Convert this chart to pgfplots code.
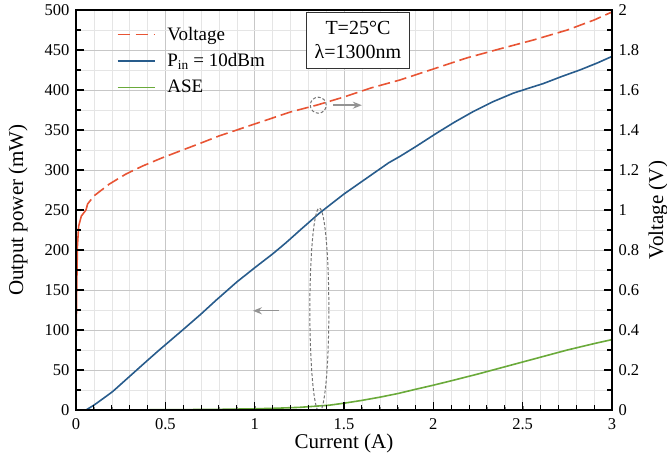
\documentclass[border=0pt]{standalone}
\usepackage{fontspec}
\setmainfont{Liberation Serif}
\usepackage{pgfplots}
\pgfplotsset{compat=1.18}
\usetikzlibrary{arrows.meta}

\definecolor{vcol}{RGB}{232,84,52}
\definecolor{pcol}{RGB}{40,92,140}
\definecolor{acol}{RGB}{106,170,58}

\tikzset{annot/.style={gray!85, line width=1.4pt, -{Stealth[length=9pt,width=7pt]}}}

\pgfplotsset{
  common/.style={
    scale only axis, width=536pt, height=400pt,
    xmin=0, xmax=3,
    /pgf/number format/assume math mode=true,
    tick label style={font=\fontsize{16.5}{19}\selectfont},
    label style={font=\fontsize{21}{24}\selectfont},
  },
}

\begin{document}
\begin{tikzpicture}
\begin{axis}[common, name=main,
  ymin=0, ymax=500,
  xtick distance=0.5, ytick distance=50,
  minor x tick num=4, minor y tick num=1,
  xtick pos=bottom, tick align=inside,
  grid=both,
  major grid style={black!22},
  minor grid style={black!10},
  xticklabel style={yshift=-5pt},
  yticklabel style={xshift=-3pt},
  xlabel={Current (A)},
  ylabel={Output power (mW)},
  xlabel style={at={(axis description cs:0.5,0)}, anchor=north, yshift=-20pt},
  ylabel style={at={(axis description cs:-0.108,0.5)}, anchor=center},
  legend image code/.code={\draw[mark repeat=2,mark phase=2,#1]
    plot coordinates {(0pt,0pt) (18pt,0pt) (37pt,0pt)};},
  legend cell align=left,
  legend style={draw=none, fill=none, at={(axis description cs:0.07,0.968)},
    anchor=north west, font=\fontsize{19}{22}\selectfont, row sep=8pt,
    /tikz/every odd column/.append style={column sep=10pt}},
]
\addlegendimage{vcol, line width=1.6pt, dash pattern=on 12pt off 6pt}
\addlegendentry{Voltage}

% P_in = 10 dBm output power
\addplot[pcol, line width=1.6pt] coordinates {
  (0.056,0) (0.1,6) (0.15,14) (0.205,23) (0.3,42) (0.4,62) (0.466,75)
  (0.597,100) (0.7,120) (0.783,137) (0.9,160) (1.007,179) (1.1,195)
  (1.175,209) (1.26,226) (1.362,246) (1.5,270) (1.641,292) (1.75,309)
  (1.813,317) (1.9,329) (2.018,346) (2.12,360) (2.223,373) (2.33,385)
  (2.447,396) (2.53,402) (2.615,408) (2.72,417) (2.82,425) (2.92,434)
  (3.0,442)
};
\addlegendentry{P\textsubscript{in} = 10dBm}

% ASE
\addplot[acol, line width=1.6pt] coordinates {
  (0,0) (0.5,0.3) (0.8,0.8) (1.0,1.5) (1.12,2.2) (1.25,3.3) (1.418,6)
  (1.5,8.5) (1.6,12) (1.7,16) (1.8,20.5) (1.903,26) (2.0,31) (2.1,36.5)
  (2.25,45) (2.4,54) (2.5,60) (2.6,66) (2.75,75) (2.9,83) (3.0,88)
};
\addlegendentry{ASE}

\draw[gray!90!black, dash pattern=on 3pt off 2pt, line width=1pt]
  (axis cs:1.362,125) ellipse [x radius=9.5pt, y radius=102pt];
\draw[annot] (axis cs:1.136,124) -- (axis cs:0.99,124);
\draw[gray!90!black, dash pattern=on 3pt off 2pt, line width=1pt]
  (axis cs:1.356,381) circle [radius=8pt];
\draw[annot] (axis cs:1.44,381) -- (axis cs:1.6,381);

\node[draw=black!80, line width=1pt, fill=white, align=center,
  minimum width=103pt, minimum height=56pt, inner sep=2pt,
  font=\fontsize{20}{24}\selectfont]
  at (axis cs:1.578,462) {T=25°C\\λ=1300nm};
\end{axis}

\begin{axis}[common,
  ymin=0, ymax=2,
  hide x axis, axis y line*=right,
  y axis line style={draw=none},
  ytick distance=0.2,
  major tick length=0pt,
  yticklabel style={xshift=3pt},
  ylabel={Voltage (V)},
  ylabel style={at={(axis description cs:1.086,0.5)}, anchor=center},
]
% voltage, steep rise near zero current drawn solid
\addplot[vcol, line width=1.6pt] coordinates {
  (0,0.28) (0.004,0.6) (0.008,0.82) (0.015,0.92) (0.03,0.97) (0.056,1.0)
};
\addplot[vcol, line width=1.6pt, dash pattern=on 12pt off 5pt] coordinates {
  (0.056,1.0) (0.065,1.03) (0.1,1.07) (0.187,1.13) (0.28,1.18)
  (0.373,1.22) (0.48,1.26) (0.597,1.30) (0.7,1.335) (0.8,1.37)
  (0.9,1.40) (1.0,1.43) (1.1,1.46) (1.2,1.49) (1.35,1.525) (1.5,1.565)
  (1.65,1.61) (1.813,1.65) (2.0,1.705) (2.186,1.76) (2.37,1.805)
  (2.56,1.85) (2.75,1.90) (2.9,1.95) (3.0,1.99)
};
\end{axis}

% tick marks: 0.1 A / 25 mW (0.1 V) minor, 0.5 A / 50 mW (0.2 V) major
\foreach \i in {0,...,30} {
  \pgfmathtruncatemacro\m{mod(\i,5)}
  \ifnum\m=0 \def\len{8pt}\else\def\len{5pt}\fi
  \draw[black, line width=1.1pt] ([xshift=\i*17.8667pt]main.south west) -- ++(0,\len);
}
\foreach \j in {0,...,20} {
  \pgfmathtruncatemacro\m{mod(\j,2)}
  \ifnum\m=0 \def\len{8pt}\else\def\len{5pt}\fi
  \draw[black, line width=1.1pt] ([yshift=\j*20pt]main.south west) -- ++(\len,0);
  \draw[black, line width=1.1pt] ([yshift=\j*20pt]main.south east) -- ++(-\len,0);
}
\draw[black, line width=1.3pt] (main.south west) rectangle (main.north east);

\pgfresetboundingbox
\path[use as bounding box] (main.south west) ++(-76pt,-50pt) rectangle ++(667pt,460pt);
\end{tikzpicture}
\end{document}
